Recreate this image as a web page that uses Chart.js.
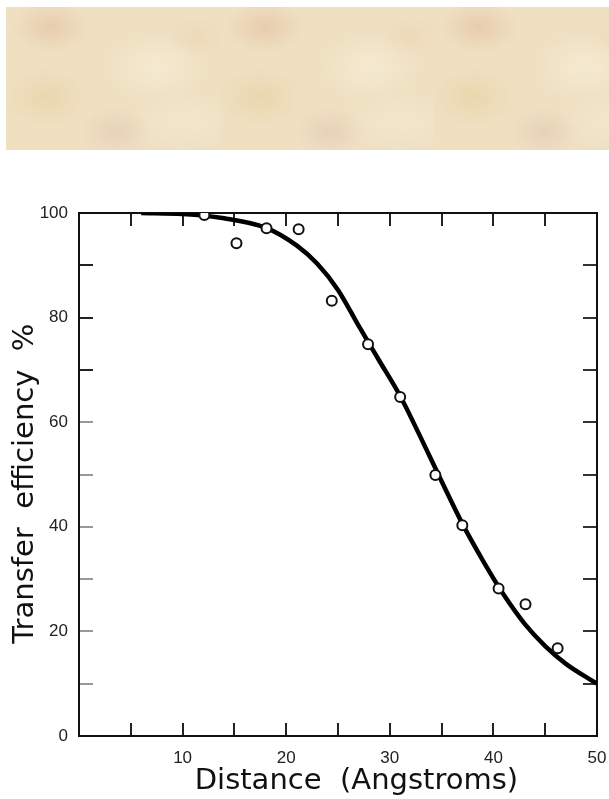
<!DOCTYPE html>
<html>
<head>
<meta charset="utf-8">
<script src="https://cdn.jsdelivr.net/npm/chart.js"></script>
<style>
  body { margin: 0; width: 609px; height: 799px; overflow: hidden; background: #fff; }
  #banner {
    position: absolute; left: 6px; top: 7px; width: 603px; height: 143px;
    background-color: #efe0c2;
    background-image:
      radial-gradient(ellipse 40px 26px at 45px 20px, rgba(228,196,164,.7), transparent),
      radial-gradient(ellipse 50px 35px at 150px 60px, rgba(246,236,212,.8), transparent),
      radial-gradient(ellipse 45px 30px at 40px 90px, rgba(232,208,160,.6), transparent),
      radial-gradient(ellipse 35px 25px at 110px 125px, rgba(226,200,176,.6), transparent),
      radial-gradient(ellipse 60px 30px at 180px 115px, rgba(244,232,206,.8), transparent),
      radial-gradient(ellipse 30px 20px at 190px 30px, rgba(236,214,180,.7), transparent);
    background-size: 214px 143px;
  }
  #wrap { position: absolute; left: 0; top: 190px; }
</style>
</head>
<body>
<div id="banner"></div>
<div id="wrap"><canvas id="grafico" width="609" height="609"></canvas></div>
<script>
// puntos medidos (circulos)
var puntosX = [12.1, 15.2, 18.1, 21.2, 24.4, 27.9, 31.0, 34.4, 37.0, 40.5, 43.1, 46.2];
var puntosY = [99.6, 94.2, 97.1, 96.9, 83.2, 74.9, 64.8, 49.9, 40.3, 28.2, 25.2, 16.8];

// curva
var curvaX = [6, 10, 14, 18, 21, 23, 25, 27, 29, 31, 33, 35, 37, 39, 41, 43, 45, 47, 50];
var curvaY = [100, 99.8, 99.0, 97.2, 93.8, 90.3, 85.3, 78.4, 71.7, 65.0, 57.0, 48.7, 40.6, 33.5, 27.0, 21.5, 17.2, 13.8, 10.0];

var etiquetasX = [10, 20, 30, 40, 50];
var etiquetasY = [0, 20, 40, 60, 80, 100];

var fuenteTicks = { family: 'Liberation Sans', size: 17 };
var fuenteTitulo = { family: 'DejaVu Sans', size: 29 };

// fija el tamaño del eje y quita el relleno que agrega el padding de los ticks
function fijarAncho(w) {
  return function(s) { s.width = w; s.paddingTop = 0; s.paddingBottom = 0; };
}
function fijarAlto(h) {
  return function(s) { s.height = h; s.paddingLeft = 0; s.paddingRight = 0; };
}

var ctx = document.getElementById('grafico').getContext('2d');

var datosPuntos = puntosX.map(function(x, i) { return { x: x, y: puntosY[i] }; });
var datosCurva = curvaX.map(function(x, i) { return { x: x, y: curvaY[i] }; });

var grafico = new Chart(ctx, {
  type: 'scatter',
  data: {
    datasets: [{
      label: 'medido',
      data: datosPuntos,
      order: 0,
      pointRadius: 5,
      pointBorderWidth: 2,
      pointBackgroundColor: '#fff',
      pointBorderColor: '#111',
      showLine: false
    }, {
      label: 'curva',
      data: datosCurva,
      order: 1,
      showLine: true,
      pointRadius: 0,
      borderColor: '#000',
      borderWidth: 4.5,
      cubicInterpolationMode: 'monotone'
    }]
  },
  options: {
    responsive: false,
    animation: false,
    devicePixelRatio: 1,
    layout: { padding: 0 },
    plugins: { legend: { display: false }, tooltip: { enabled: false } },
    scales: {
      x: {
        type: 'linear', position: 'bottom', min: 0, max: 50,
        afterFit: fijarAlto(63),
        border: { display: true, color: '#111', width: 2 },
        grid: { drawOnChartArea: false, drawTicks: true, tickLength: -13, lineWidth: 2, color: '#222' },
        ticks: {
          stepSize: 5, padding: 25, color: '#222', font: fuenteTicks, maxRotation: 0, autoSkip: false,
          callback: function(v) { return etiquetasX.indexOf(v) >= 0 ? String(v) : ''; }
        },
        title: { display: true, text: '    Distance  (Angstroms)', color: '#111', font: fuenteTitulo, padding: { top: 0, bottom: 0 } }
      },
      x2: {
        type: 'linear', position: 'top', min: 0, max: 50,
        afterFit: fijarAlto(23),
        border: { display: true, color: '#111', width: 2 },
        grid: { drawOnChartArea: false, drawTicks: true, tickLength: -13, lineWidth: 2, color: '#222' },
        ticks: { stepSize: 5, display: false }
      },
      y: {
        type: 'linear', position: 'left', min: 0, max: 100,
        afterFit: fijarAncho(79),
        border: { display: true, color: '#111', width: 2 },
        grid: {
          drawOnChartArea: false, drawTicks: true, tickLength: -14, lineWidth: 2,
          color: function(c) { return c.tick && c.tick.value >= 70 ? '#222' : '#999'; }
        },
        ticks: {
          stepSize: 10, padding: 25, color: '#222', font: fuenteTicks, autoSkip: false,
          callback: function(v) { return etiquetasY.indexOf(v) >= 0 ? String(v) : ''; }
        },
        title: { display: true, text: 'Transfer  efficiency  %  ', color: '#111', font: fuenteTitulo, padding: { top: 8, bottom: 0 } }
      },
      y2: {
        type: 'linear', position: 'right', min: 0, max: 100,
        afterFit: fijarAncho(12),
        border: { display: true, color: '#111', width: 2 },
        grid: { drawOnChartArea: false, drawTicks: true, tickLength: -14, lineWidth: 2, color: '#333' },
        ticks: { stepSize: 10, display: false }
      }
    }
  }
});
</script>
</body>
</html>
